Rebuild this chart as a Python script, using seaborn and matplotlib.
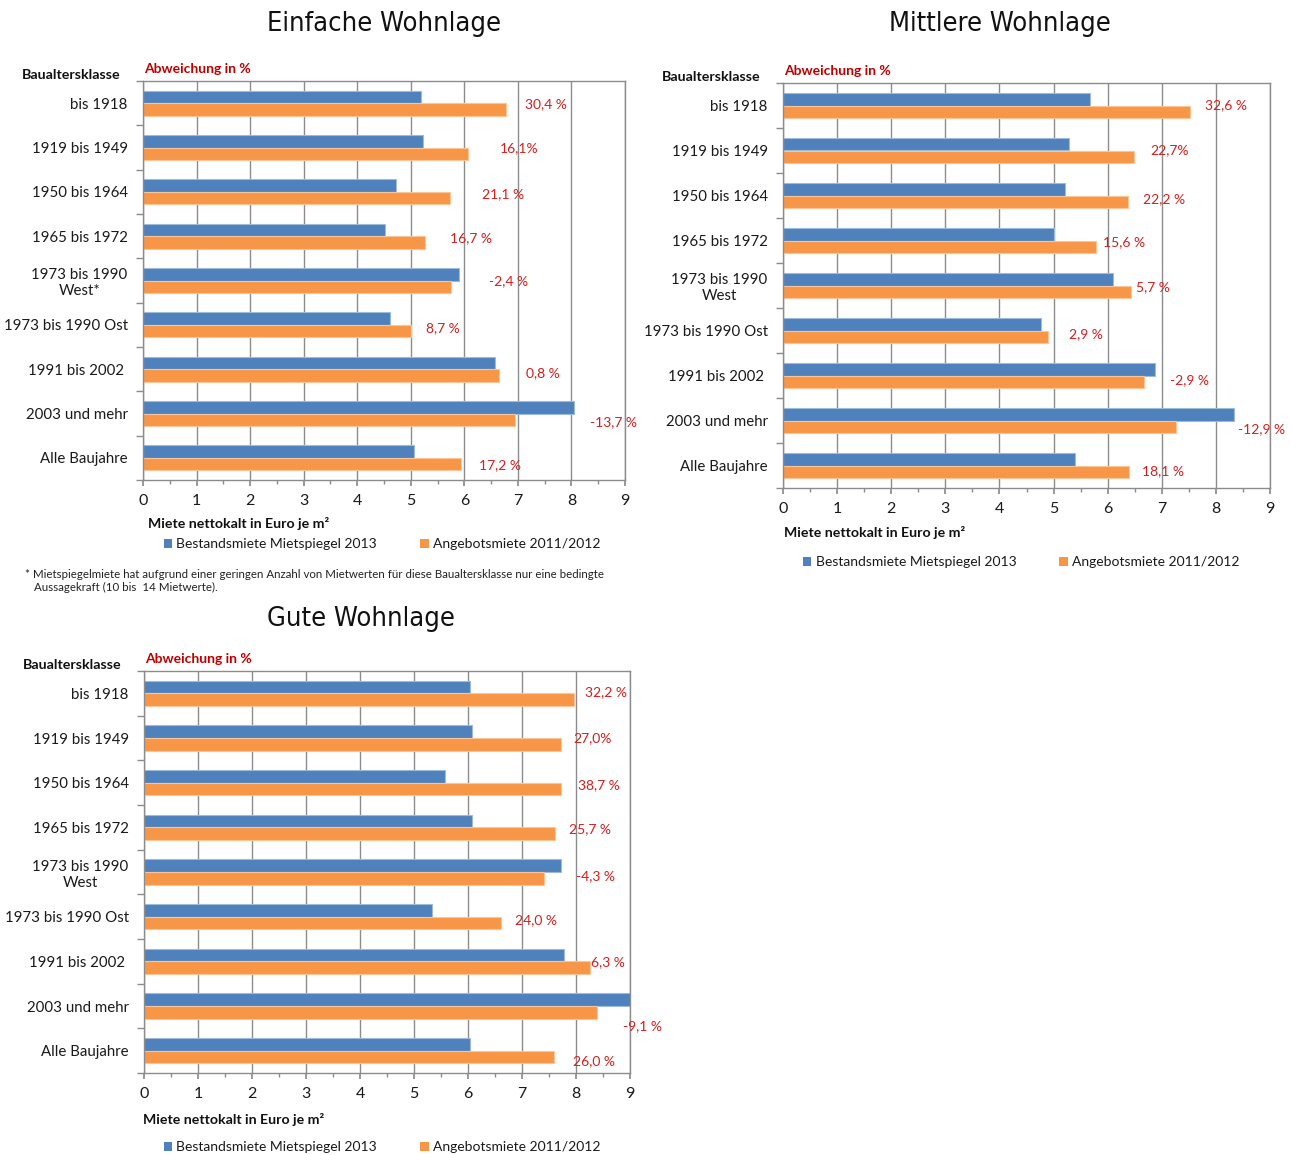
import os
import matplotlib
matplotlib.use("Agg")
import matplotlib.pyplot as plt
from matplotlib import font_manager as fm
from matplotlib.patches import Patch
from matplotlib.ticker import FixedLocator, MultipleLocator
import matplotlib.colors as mcolors
import pandas as pd
import seaborn as sns

# ---------------------------------------------------------------- data
series = ["Bestandsmiete Mietspiegel 2013", "Angebotsmiete 2011/2012"]

classes_einfach = ["bis 1918", "1919 bis 1949", "1950 bis 1964", "1965 bis 1972",
                   "1973 bis 1990\nWest*", "1973 bis 1990 Ost", "1991 bis 2002 ",
                   "2003 und mehr", "Alle Baujahre"]
classes = ["bis 1918", "1919 bis 1949", "1950 bis 1964", "1965 bis 1972",
           "1973 bis 1990\nWest", "1973 bis 1990 Ost", "1991 bis 2002 ",
           "2003 und mehr", "Alle Baujahre"]

einfach_bestand = [5.20, 5.22, 4.73, 4.51, 5.90, 4.61, 6.58, 8.05, 5.06]
einfach_angebot = [6.78, 6.06, 5.73, 5.26, 5.76, 5.01, 6.64, 6.95, 5.93]
einfach_labels = ["30,4 %", "16,1%", "21,1 %", "16,7 %", "-2,4 %", "8,7 %",
                  "0,8 %", "-13,7 %", "17,2 %"]

mittel_bestand = [5.67, 5.28, 5.22, 5.01, 6.09, 4.76, 6.87, 8.34, 5.40]
mittel_angebot = [7.53, 6.48, 6.38, 5.79, 6.44, 4.90, 6.68, 7.26, 6.39]
mittel_labels = ["32,6 %", "22,7%", "22,2 %", "15,6 %", "5,7 %", "2,9 %",
                 "-2,9 %", "-12,9 %", "18,1 %"]

gut_bestand = [6.03, 6.07, 5.57, 6.07, 7.73, 5.34, 7.78, 9.23, 6.03]
gut_angebot = [7.96, 7.72, 7.73, 7.61, 7.40, 6.61, 8.26, 8.39, 7.59]
gut_labels = ["32,2 %", "27,0%", "38,7 %", "25,7 %", "-4,3 %", "24,0 %",
              "6,3 %", "-9,1 %", "26,0 %"]

footnote = ("* Mietspiegelmiete hat aufgrund einer geringen Anzahl von Mietwerten "
            "für diese Baualtersklasse nur eine bedingte\n   Aussagekraft (10 bis  14 Mietwerte).")

# label placement: pixel shift (right, down) from the end of the longer bar
einfach_nudge = [(19, 1), (32, 1), (32, 2), (25, 2), (30, 1), (15, 3), (27, 4), (16, 9), (18, 7)]
mittel_nudge = [(15, 0), (17, 0), (15, 4), (7, 2), (5, 2), (21, 4), (15, 5), (4, 9), (13, 6)]
gut_nudge = [(11, -1), (12, 0), (17, 2), (14, 2), (15, 4), (14, 3), (1, 1), (-7, 20), (19, 10)]

# ---------------------------------------------------------------- style
BLUE = "#4F81BD"
ORANGE = "#F79646"
RED_HEAD = "#C00000"
RED_VAL = "#D41F1F"
GRID = "#8C8C8C"

sns.set_theme(style="white")
BODY = ["Lato", "DejaVu Sans"]
plt.rcParams["font.family"] = BODY


def narrow_font():
    """Pick a condensed sans face for the headings if one is installed."""
    prefs = ["liberationsansnarrow-regular", "dejavusanscondensed.ttf",
             "robotocondensed-regular", "notosans-condensed.ttf",
             "opensans-condensedregular", "opensans_condensed-regular"]
    files = [f.fname for f in fm.fontManager.ttflist]
    for p in prefs:
        for f in files:
            if os.path.basename(f).lower().startswith(p.split(".")[0]) and \
                    p in os.path.basename(f).lower():
                return fm.FontProperties(fname=f)
    return fm.FontProperties(family="Lato")


TITLE_FP = narrow_font()
TITLE_IS_NARROW = TITLE_FP.get_file() is not None

W, H = 1291, 1155
fig = plt.figure(figsize=(W / 100, H / 100), dpi=100)
fig.patch.set_facecolor("white")


def lighten(c, f=0.45):
    r, g, b = mcolors.to_rgb(c)
    return (r + (1 - r) * f, g + (1 - g) * f, b + (1 - b) * f)


def panel(box, title, title_cx, title_cy, cats, bestand, angebot, labels, nudge,
          legend_dy, legend_dx, xlab_dx, xlab_dy):
    l, t, r, b = box
    ax = fig.add_axes([l / W, 1 - b / H, (r - l) / W, (b - t) / H])
    df = pd.DataFrame({
        "Baualtersklasse": cats * 2,
        "Miete": list(bestand) + list(angebot),
        "Serie": [series[0]] * len(cats) + [series[1]] * len(cats),
    })
    sns.barplot(data=df, y="Baualtersklasse", x="Miete", hue="Serie",
                hue_order=series, order=cats, orient="h",
                palette=[BLUE, ORANGE], width=0.56, ax=ax, legend=False,
                saturation=1, edgecolor="none", linewidth=0)
    for p in ax.patches:
        p.set_edgecolor(lighten(p.get_facecolor()))
        p.set_linewidth(0.8)

    xmax = 9
    ax.set_xlim(0, xmax)
    ax.set_ylim(len(cats) - 0.5, -0.5)
    ax.set_axisbelow(True)
    ax.xaxis.set_major_locator(MultipleLocator(1))
    ax.xaxis.set_minor_locator(MultipleLocator(0.5))
    ax.grid(axis="x", which="major", color=GRID, linewidth=1.0)
    ax.grid(axis="y", visible=False)
    for s in ax.spines.values():
        s.set_color(GRID)
        s.set_linewidth(1.0)

    ax.set_yticks(range(len(cats)))
    ax.set_yticklabels(cats, fontsize=10.8, color="#1a1a1a", multialignment="center")
    ax.yaxis.set_minor_locator(FixedLocator([i - 0.5 for i in range(len(cats) + 1)]))
    ax.tick_params(axis="y", which="major", length=0, pad=11)
    ax.tick_params(axis="y", which="minor", length=5, color=GRID, direction="out", left=True)
    ax.tick_params(axis="x", which="major", length=4, color=GRID, direction="out",
                   bottom=True, labelsize=11.5, labelcolor="#1a1a1a", pad=6)
    ax.tick_params(axis="x", which="minor", length=3, color=GRID, direction="out", bottom=True)
    ax.set_xlabel("")
    ax.set_ylabel("")

    # deviation labels beside each group
    for i, lab in enumerate(labels):
        dx, dy = nudge[i]
        ax.annotate(lab, xy=(min(max(bestand[i], angebot[i]), xmax), i),
                    xytext=(dx, -dy), textcoords="offset pixels",
                    ha="left", va="center", fontsize=10, color=RED_VAL,
                    annotation_clip=False)

    # headings and axis caption
    fig.text(title_cx / W, 1 - title_cy / H, title, ha="center", va="center",
             fontproperties=TITLE_FP, fontsize=19.5 if TITLE_IS_NARROW else 18,
             color="#111111")
    fig.text((l - 121) / W, 1 - (t - 6) / H, "Baualtersklasse", ha="left",
             va="center", fontsize=10.3, fontweight="bold", color="#111111")
    fig.text((l + 1) / W, 1 - (t - 12) / H, "Abweichung in %", ha="left",
             va="center", fontsize=10, fontweight="bold", color=RED_HEAD)
    fig.text((l + xlab_dx) / W, 1 - (b + xlab_dy) / H,
             "Miete nettokalt in Euro je m²", ha="left", va="center",
             fontsize=10.2, fontweight="bold", color="#111111")

    handles = [Patch(facecolor=BLUE, edgecolor="none"),
               Patch(facecolor=ORANGE, edgecolor="none")]
    leg = ax.legend(handles, series, ncol=2, frameon=False, loc="center left",
                    bbox_to_anchor=((l + legend_dx - 4) / W, 1 - (b + legend_dy) / H),
                    bbox_transform=fig.transFigure, fontsize=10,
                    handlelength=0.6, handleheight=0.6, handletextpad=0.3,
                    columnspacing=3.1, borderaxespad=0, borderpad=0)
    for txt in leg.get_texts():
        txt.set_color("#1a1a1a")
    return ax


panel((143, 81, 625, 480), "Einfache Wohnlage", 384, 24,
      classes_einfach, einfach_bestand, einfach_angebot, einfach_labels, einfach_nudge,
      legend_dy=64, legend_dx=25, xlab_dx=5, xlab_dy=44)
panel((783, 83, 1270, 488), "Mittlere Wohnlage", 1000, 24,
      classes, mittel_bestand, mittel_angebot, mittel_labels, mittel_nudge,
      legend_dy=74, legend_dx=24, xlab_dx=1, xlab_dy=44)
panel((144, 671, 630, 1073), "Gute Wohnlage", 361, 619,
      classes, gut_bestand, gut_angebot, gut_labels, gut_nudge,
      legend_dy=74, legend_dx=24, xlab_dx=-1, xlab_dy=46)

fig.text(25 / W, 1 - 581 / H, footnote, ha="left", va="center", fontsize=8.3,
         color="#222222", linespacing=1.25)

fig.savefig("out.png", dpi=100, facecolor="white")
